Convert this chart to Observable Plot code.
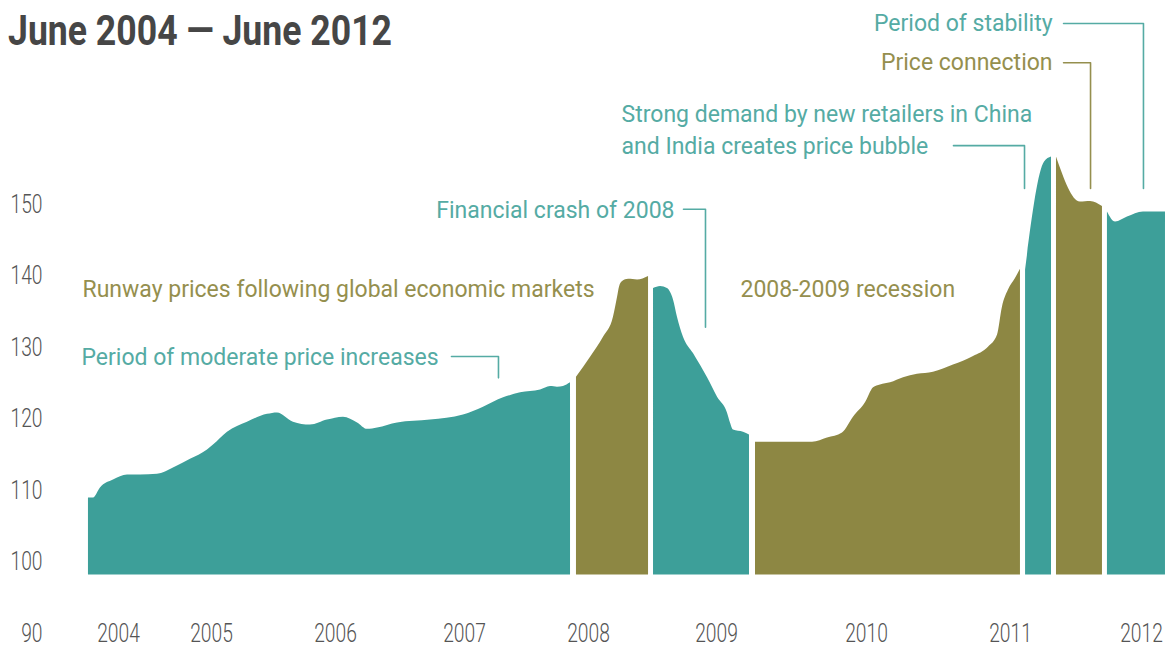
<!DOCTYPE html>
<html><head><meta charset="utf-8">
<script src="https://cdn.jsdelivr.net/npm/d3@7"></script>
<script src="https://cdn.jsdelivr.net/npm/@observablehq/plot@0.6"></script>
<style>
html,body{margin:0;padding:0;background:#fff;}
#wrap{position:relative;width:1165px;height:646px;overflow:hidden;}
#title{position:absolute;left:8px;top:10px;margin:0;font-family:Roboto,"Noto Sans",sans-serif;font-weight:700;font-size:42px;color:#464646;line-height:1;z-index:2;white-space:nowrap;transform-origin:0 0;}
#chart svg{display:block;}
</style></head><body>
<div id="wrap"><h1 id="title">June 2004 — June 2012</h1><div id="chart"></div></div>
<script>
// ---- tick labels ----
const yearTicks = [2004, 2005, 2006, 2007, 2008, 2009, 2010, 2011, 2012];
const valueTicks = [90, 100, 110, 120, 130, 140, 150];

// ---- price index segments (decimal year, index value) ----
const seg1Years = [2003.677,2003.731,2003.806,2003.946,2004.097,2004.237,2004.419,2004.591,2004.774,2004.957,2005.016,2005.129,2005.290,2005.452,2005.532,2005.661,2005.798,2005.935,2006.062,2006.171,2006.248,2006.326,2006.481,2006.736,2006.992,2007.153,2007.315,2007.452,2007.613,2007.694,2007.750,2007.798,2007.855];
const seg1Values = [110.8,110.8,112.2,113.3,114.0,114.0,114.1,115.0,116.2,117.5,118.2,120.0,121.4,122.5,122.7,121.4,121.0,121.7,122.1,121.3,120.4,120.6,121.3,121.7,122.4,123.5,124.8,125.5,125.9,126.4,126.3,126.4,126.9];
const seg2Years = [2007.903,2008.016,2008.117,2008.195,2008.227,2008.242,2008.266,2008.313,2008.383,2008.469];
const seg2Values = [127.7,130.5,133.3,136.1,138.9,140.3,141.1,141.4,141.3,141.8];
const seg3Years = [2008.508,2008.563,2008.617,2008.664,2008.695,2008.742,2008.820,2008.930,2009.007,2009.073,2009.093,2009.113,2009.180,2009.220];
const seg3Values = [140.1,140.4,140.1,138.5,136.1,133.3,131.0,127.6,124.9,122.7,121.3,120.3,120.0,119.6];
const seg4Years = [2009.260,2009.640,2009.740,2009.840,2009.913,2009.993,2010.049,2010.097,2010.167,2010.257,2010.354,2010.465,2010.604,2010.743,2010.847,2010.910,2010.944,2010.986,2011.038,2011.076];
const seg4Values = [118.6,118.6,119.2,119.9,122.1,124.1,126.2,126.6,126.9,127.6,128.1,128.4,129.4,130.6,131.9,133.6,137.5,139.9,141.5,142.8];
const seg5Years = [2011.115,2011.260,2011.313];
const seg5Values = [142.7,157.8,158.5];
const seg6Years = [2011.351,2011.534,2011.611,2011.702];
const seg6Values = [158.5,152.2,152.3,151.6];
const seg7Years = [2011.740,2011.802,2011.893,2012.015,2012.183];
const seg7Values = [150.8,149.4,150.1,150.8,150.8];
const segmentPhase = ["teal","olive","teal","olive","teal","olive","teal"];

// ---- annotations ----
const annoText = ["Period of stability","Price connection","Strong demand by new retailers in China","and India creates price bubble","Financial crash of 2008","Runway prices following global economic markets","2008-2009 recession","Period of moderate price increases"];
const annoYear = [2011.321,2011.321,2008.258,2008.258,2008.672,2003.613,2009.160,2003.602];
const annoValue = [177.2,171.7,164.5,160.0,151.0,140.0,140.0,130.5];
const annoAlign = ["end","end","start","start","end","start","start","start"];
const annoPhase = ["teal","olive","teal","teal","teal","olive","olive","teal"];

const leaderYears = [[2011.405,2012.015,2012.015],[2011.405,2011.611,2011.611],[2010.604,2011.107,2011.107],[2008.742,2008.914,2008.914],[2006.899,2007.274,2007.274]];
const leaderValues = [[177.2,177.2,154.1],[171.7,171.7,154.1],[160.1,160.1,154.1],[151.2,151.2,134.7],[130.6,130.6,127.6]];
const leaderPhase = ["teal","olive","teal","teal","teal"];

// ---- build tables ----
const segYears = [seg1Years,seg2Years,seg3Years,seg4Years,seg5Years,seg6Years,seg7Years];
const segValues = [seg1Values,seg2Values,seg3Values,seg4Values,seg5Values,seg6Values,seg7Values];
const points = [];
segYears.forEach((ys, s) => ys.forEach((yr, i) => points.push({seg: s, phase: segmentPhase[s], year: yr, value: segValues[s][i]})));
const annos = annoText.map((t, i) => ({text: t, year: annoYear[i], value: annoValue[i], align: annoAlign[i], phase: annoPhase[i]}));
const leaders = [];
leaderYears.forEach((ys, k) => ys.forEach((yr, i) => leaders.push({id: k, phase: leaderPhase[k], year: yr, value: leaderValues[k][i]})));

const areaColor = {teal: "#3d9f99", olive: "#8d8743"};
const textColor = {teal: "#55aba4", olive: "#958f4e"};
const annoFont = "Roboto, 'Noto Sans', sans-serif";
const tickFont = "Roboto, 'Noto Sans', sans-serif";

const chart = Plot.plot({
  width: 1165,
  height: 646,
  margin: 0,
  x: {type: "linear", axis: null, domain: yearTicks, range: [118, 211, 335, 464, 588, 716, 866, 1010, 1141]},
  y: {type: "linear", axis: null, domain: [90, 180], range: [646, 3]},
  marks: [
    Plot.area(points.filter(d => d.phase === "teal"), {x1: "year", y1: () => 100, y2: "value", z: "seg", fill: areaColor.teal, curve: "monotone-x"}),
    Plot.area(points.filter(d => d.phase === "olive"), {x1: "year", y1: () => 100, y2: "value", z: "seg", fill: areaColor.olive, curve: "monotone-x"}),
    Plot.line(leaders, {x: "year", y: "value", z: "id", stroke: d => textColor[d.phase], strokeWidth: 1.6}),
    Plot.text(annos.filter(d => d.align === "end"), {x: "year", y: "value", text: "text", textAnchor: "end", fill: d => textColor[d.phase], fontSize: 23, fontWeight: 400, fontFamily: annoFont}),
    Plot.text(annos.filter(d => d.align === "start"), {x: "year", y: "value", text: "text", textAnchor: "start", fill: d => textColor[d.phase], fontSize: 23, fontWeight: 400, fontFamily: annoFont}),
    Plot.text(valueTicks, {y: d => d, text: d => String(d), frameAnchor: "left", textAnchor: "end", lineAnchor: "middle", dx: 42, dy: -13, fill: "#555", fontSize: 25, fontWeight: 300, fontFamily: tickFont, className: "ticklab"}),
    Plot.text(yearTicks, {x: d => d, text: d => String(d), frameAnchor: "bottom", lineAnchor: "middle", dy: -13, fill: "#555", fontSize: 25, fontWeight: 300, fontFamily: tickFont, className: "ticklab"})
  ]
});
document.getElementById("chart").appendChild(chart);

// condense tick labels horizontally (the reference uses a condensed face)
chart.querySelectorAll(".ticklab text").forEach(t => {
  const tr = t.getAttribute("transform") || "";
  t.setAttribute("transform", tr + " scale(0.77,1)");
});
// condense the title to the reference width
const title = document.getElementById("title");
const w = title.getBoundingClientRect().width;
title.style.transform = `scaleX(${384 / w})`;
</script></body></html>
